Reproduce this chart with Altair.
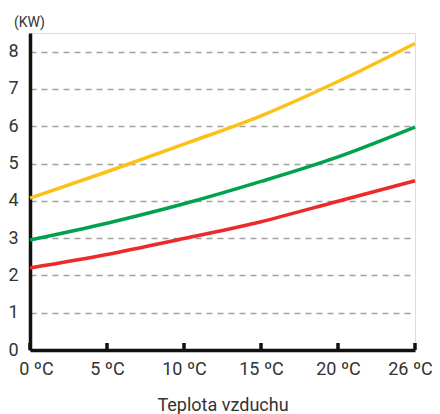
import altair as alt
import pandas as pd

# Data
temps = ["0 ºC", "5 ºC", "10 ºC", "15 ºC", "20 ºC", "26 ºC"]
yellow = [4.07, 4.78, 5.52, 6.28, 7.20, 8.22]
green = [2.95, 3.40, 3.92, 4.52, 5.18, 5.98]
red = [2.20, 2.56, 2.99, 3.44, 3.99, 4.54]
y_ticks = [0, 1, 2, 3, 4, 5, 6, 7, 8]

series_names = ["yellow", "green", "red"]
series_colors = ["#FDC016", "#00A14F", "#EC2A2A"]
series_widths = [3.5, 3.5, 2.5]

rows = []
for name, vals in zip(series_names, [yellow, green, red]):
    for t, v in zip(temps, vals):
        rows.append({"teplota": t, "kw": v, "serie": name})
df = pd.DataFrame(rows)
ticks_df = pd.DataFrame({"teplota": temps, "kw": [0] * len(temps)})

W, H = 385, 317
FONT = "Roboto"

x_axis = alt.Axis(
    title="Teplota vzduchu",
    labelAngle=0,
    labelFontSize=18,
    labelColor="#333333",
    labelFont=FONT,
    labelPadding=10,
    labelOffset={
        "condition": [
            {"test": "datum.label == '0 ºC'", "value": 6},
            {"test": "datum.label == '26 ºC'", "value": -5},
        ],
        "value": 0,
    },
    ticks=False,
    tickSize=0,
    domain=True,
    domainColor="#111111",
    domainWidth=3.5,
    grid=False,
    titleFont=FONT,
    titleFontSize=18,
    titleFontWeight="normal",
    titleColor="#333333",
    titleBaseline="alphabetic",
    titleY=60,
)
x_scale = alt.Scale(type="point", padding=0)

y_axis = alt.Axis(
    title="(KW)",
    values=y_ticks,
    labelOverlap=False,
    labelFontSize=18,
    labelColor="#333333",
    labelFont=FONT,
    labelPadding=12,
    ticks=False,
    tickSize=0,
    domain=True,
    domainColor="#111111",
    domainWidth=3.5,
    grid=True,
    gridColor="#a0a0a0",
    gridDash=[6, 5],
    gridWidth=1.5,
    titleAngle=0,
    titleAlign="center",
    titleBaseline="middle",
    titleX=-1,
    titleY=-11,
    titleFont=FONT,
    titleFontSize=14,
    titleFontWeight="normal",
    titleColor="#333333",
)
y_scale = alt.Scale(domain=[0, 8.5], nice=False)

lines = alt.Chart(df).mark_line(interpolate="monotone", strokeCap="butt").encode(
    x=alt.X("teplota:O", sort=temps, scale=x_scale, axis=x_axis),
    y=alt.Y("kw:Q", scale=y_scale, axis=y_axis),
    color=alt.Color(
        "serie:N",
        scale=alt.Scale(domain=series_names, range=series_colors),
        legend=None,
    ),
    strokeWidth=alt.StrokeWidth(
        "serie:N",
        scale=alt.Scale(domain=series_names, range=series_widths),
        legend=None,
    ),
    detail="serie:N",
)

tick_marks = alt.Chart(ticks_df).mark_rule(color="#111111", strokeWidth=3.5).encode(
    x=alt.X("teplota:O", sort=temps, scale=x_scale, axis=x_axis),
    y=alt.Y("kw:Q", scale=y_scale, axis=y_axis),
    y2=alt.value(H - 7),
)

chart = (
    alt.layer(lines, tick_marks)
    .properties(
        width=W,
        height=H,
        autosize=alt.AutoSizeParams(type="none"),
        padding={"left": 22, "top": 25, "right": 17, "bottom": 64},
    )
    .configure_view(stroke=None)
    .configure(background="white")
)

chart.save("out.html", embed_options={"renderer": "svg", "actions": False})
